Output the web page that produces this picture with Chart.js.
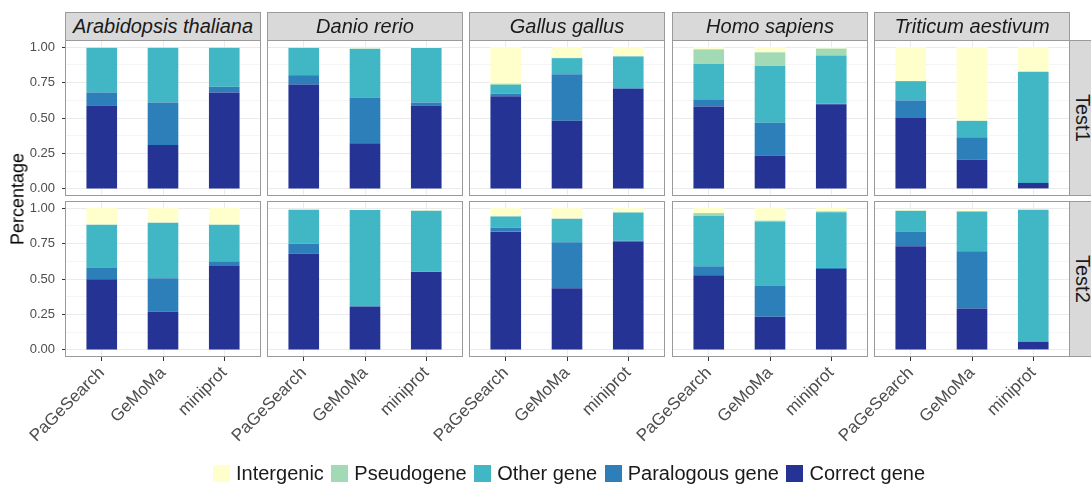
<!DOCTYPE html>
<html>
<head>
<meta charset="utf-8">
<script src="https://cdn.jsdelivr.net/npm/chart.js@4.4.1/dist/chart.umd.min.js"></script>
<style>
  html, body { margin: 0; padding: 0; background: #ffffff; }
  body { width: 1091px; height: 485px; position: relative; overflow: hidden;
         font-family: 'Liberation Sans', Arial, sans-serif; }
  canvas { position: absolute; }
  .strip { position: absolute; box-sizing: border-box; background: #d9d9d9;
           border: 1px solid #9a9a9a; color: #1a1a1a; font-size: 20px;
           display: flex; align-items: center; justify-content: center; }
  .strip.top { font-style: italic; }
  .strip.side { writing-mode: vertical-rl; }
  .ytitle { position: absolute; font-size: 18px; color: #000;
            transform: translate(-50%, -50%) rotate(-90deg); white-space: nowrap; }
  .legend { position: absolute; left: 213px; top: 462px; display: flex; align-items: center;
            font-size: 20px; color: #1a1a1a; white-space: nowrap; }
  .legend .key { width: 17px; height: 17px; margin-right: 6px; }
  .legend .lab { margin-right: 7.5px; }
</style>
</head>
<body>
<script>
// Facets and categories
const species = ['Arabidopsis thaliana', 'Danio rerio', 'Gallus gallus', 'Homo sapiens', 'Triticum aestivum'];
const tools = ['PaGeSearch', 'GeMoMa', 'miniprot'];
const tests = ['Test1', 'Test2'];
const classNames = ['Intergenic', 'Pseudogene', 'Other gene', 'Paralogous gene', 'Correct gene'];
const classColors = ['#ffffcc', '#a1dab4', '#41b6c4', '#2c7fb8', '#253494'];
const yTicks = [0, 0.25, 0.5, 0.75, 1];

// Fractions per species (3 tools each), Test1
const test1Correct    = [0.585, 0.310, 0.680,  0.736, 0.322, 0.588,  0.654, 0.480, 0.706,  0.581, 0.235, 0.597,  0.501, 0.207, 0.042];
const test1Paralogous = [0.095, 0.300, 0.040,  0.066, 0.323, 0.021,  0.017, 0.329, 0.004,  0.050, 0.231, 0.003,  0.123, 0.157, 0.000];
const test1Other      = [0.315, 0.385, 0.275,  0.193, 0.344, 0.384,  0.063, 0.113, 0.224,  0.252, 0.400, 0.341,  0.136, 0.116, 0.784];
const test1Pseudogene = [0.000, 0.000, 0.000,  0.000, 0.000, 0.000,  0.008, 0.002, 0.002,  0.101, 0.097, 0.048,  0.000, 0.000, 0.000];
const test1Intergenic = [0.005, 0.005, 0.005,  0.005, 0.006, 0.004,  0.258, 0.076, 0.064,  0.016, 0.037, 0.011,  0.240, 0.520, 0.174];

// Fractions per species (3 tools each), Test2
const test2Correct    = [0.498, 0.269, 0.591,  0.678, 0.306, 0.549,  0.834, 0.434, 0.762,  0.526, 0.234, 0.570,  0.731, 0.292, 0.056];
const test2Paralogous = [0.084, 0.236, 0.033,  0.070, 0.000, 0.002,  0.028, 0.325, 0.008,  0.063, 0.219, 0.012,  0.101, 0.403, 0.000];
const test2Other      = [0.301, 0.392, 0.259,  0.240, 0.680, 0.430,  0.079, 0.166, 0.199,  0.357, 0.453, 0.388,  0.149, 0.281, 0.932];
const test2Pseudogene = [0.000, 0.000, 0.000,  0.000, 0.000, 0.000,  0.000, 0.000, 0.000,  0.019, 0.006, 0.007,  0.000, 0.000, 0.000];
const test2Intergenic = [0.117, 0.103, 0.117,  0.004, 0.006, 0.005,  0.059, 0.075, 0.031,  0.035, 0.088, 0.023,  0.006, 0.010, 0.004];

// Series per test, in legend order (top of stack first)
const seriesByTest = [
  [test1Intergenic, test1Pseudogene, test1Other, test1Paralogous, test1Correct],
  [test2Intergenic, test2Pseudogene, test2Other, test2Paralogous, test2Correct]
];

// Panel geometry
const panelLefts = [65, 267, 469, 672, 874];
const panelW = 196;
const rowTops = [40, 201];
const panelH = 156;
const yAxisW = 65;
const xAxisH = 120;

Chart.defaults.font.family = "'Liberation Sans', Arial, sans-serif";

const panelBorder = {
  id: 'panelBorder',
  afterDraw(chart) {
    const { ctx, chartArea: { left, top, right, bottom } } = chart;
    ctx.save();
    ctx.strokeStyle = '#9a9a9a';
    ctx.lineWidth = 1;
    ctx.strokeRect(left + 0.5, top + 0.5, right - left - 1, bottom - top - 1);
    ctx.restore();
  }
};

const isMajor = v => Math.abs(v * 4 - Math.round(v * 4)) < 1e-6;

function makePanel(row, col) {
  const canvas = document.createElement('canvas');
  const w = panelW + yAxisW;
  const h = panelH + (row === 1 ? xAxisH : 0);
  canvas.width = w; canvas.height = h;
  canvas.style.left = (panelLefts[col] - yAxisW) + 'px';
  canvas.style.top = rowTops[row] + 'px';
  canvas.style.width = w + 'px'; canvas.style.height = h + 'px';
  document.body.appendChild(canvas);

  const showY = col === 0;
  const showX = row === 1;
  const series = seriesByTest[row];

  // stack from the bottom: Correct gene first
  const datasets = [];
  for (let k = classNames.length - 1; k >= 0; k--) {
    datasets.push({
      label: classNames[k],
      data: tools.map((t, i) => ({ x: i, y: series[k][col * tools.length + i] })),
      backgroundColor: classColors[k],
      borderWidth: 0,
      categoryPercentage: 1,
      barPercentage: 0.5
    });
  }

  new Chart(canvas, {
    type: 'bar',
    data: { datasets },
    plugins: [panelBorder],
    options: {
      responsive: false,
      animation: false,
      devicePixelRatio: 1,
      layout: { padding: 0 },
      plugins: { legend: { display: false }, tooltip: { enabled: false } },
      scales: {
        x: {
          type: 'linear', stacked: true, min: -0.6, max: 2.6, offset: false,
          afterBuildTicks: s => { s.ticks = tools.map((t, i) => ({ value: i })); },
          ticks: {
            display: showX, autoSkip: false, minRotation: 45, maxRotation: 45,
            color: '#4d4d4d', font: { size: 17 }, padding: 2,
            callback: v => tools[v]
          },
          grid: { offset: false, color: '#ebebeb', lineWidth: 1, drawTicks: showX, tickLength: 4, tickColor: '#333333' },
          border: { display: false },
          afterFit: s => { s.height = showX ? xAxisH : 0; s.paddingLeft = 0; s.paddingRight = 0; s.paddingTop = 0; s.paddingBottom = 0; }
        },
        y: {
          type: 'linear', stacked: true, min: -0.05, max: 1.05,
          afterBuildTicks: s => {
            const t = [];
            for (let i = 0; i <= 8; i++) t.push({ value: i / 8 });
            s.ticks = t;
          },
          ticks: {
            display: showY, autoSkip: false, color: '#4d4d4d', font: { size: 13 }, padding: 7,
            callback: v => (isMajor(v) && yTicks.includes(Math.round(v * 4) / 4)) ? v.toFixed(2) : ''
          },
          grid: {
            color: c => isMajor(c.tick.value) ? '#ebebeb' : '#f5f5f5',
            lineWidth: 1, drawTicks: showY, tickLength: 3,
            tickColor: c => isMajor(c.tick.value) ? '#333333' : 'rgba(0,0,0,0)'
          },
          border: { display: false },
          afterFit: s => { s.width = yAxisW; s.paddingLeft = 0; s.paddingRight = 0; s.paddingTop = 0; s.paddingBottom = 0; }
        }
      }
    }
  });
}

for (let r = 0; r < tests.length; r++) {
  for (let c = 0; c < species.length; c++) makePanel(r, c);
}

// Facet strips
species.forEach((name, c) => {
  const d = document.createElement('div');
  d.className = 'strip top';
  d.style.left = panelLefts[c] + 'px';
  d.style.top = '12px';
  d.style.width = panelW + 'px';
  d.style.height = (rowTops[0] - 12 + 1) + 'px';
  d.textContent = name;
  document.body.appendChild(d);
});
tests.forEach((name, r) => {
  const d = document.createElement('div');
  d.className = 'strip side';
  d.style.left = (panelLefts[4] + panelW - 1) + 'px';
  d.style.top = rowTops[r] + 'px';
  d.style.width = '26px';
  d.style.height = panelH + 'px';
  d.textContent = name;
  document.body.appendChild(d);
});

// Axis title
const yt = document.createElement('div');
yt.className = 'ytitle';
yt.style.left = '18px';
yt.style.top = ((rowTops[0] + rowTops[1] + panelH) / 2) + 'px';
yt.textContent = 'Percentage';
document.body.appendChild(yt);

// Legend
const lg = document.createElement('div');
lg.className = 'legend';
classNames.forEach((name, k) => {
  const key = document.createElement('span');
  key.className = 'key';
  key.style.background = classColors[k];
  const lab = document.createElement('span');
  lab.className = 'lab';
  lab.textContent = name;
  lg.appendChild(key); lg.appendChild(lab);
});
document.body.appendChild(lg);
</script>
</body>
</html>
